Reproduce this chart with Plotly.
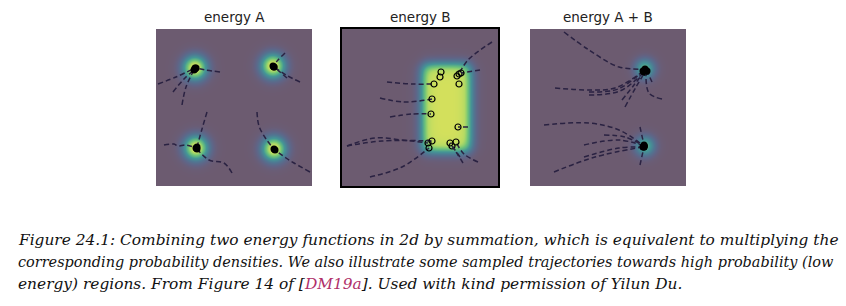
import numpy as np
import plotly.graph_objects as go

W, H = 846, 306

# ---------------- data (panel pixel coordinates, origin top-left of each panel) ----------
panel_titles = ["energy A", "energy B", "energy A + B"]

# energy A : gaussian wells (x, y, amplitude, sigma)
wells_A = [(39, 39, 1.0, 9.0), (117, 37, 1.0, 9.0), (40, 119, 1.0, 9.0), (118, 120, 1.0, 9.0)]
# energy B : soft rectangle (x0, x1, y0, y1, softness)
box_B = (80, 129, 35, 123, 3.6)
# energy A + B : wells
wells_C = [(115, 40, 0.64, 7.5), (115, 117, 0.64, 7.5)]

traj_A = [
    [(2, 55), (20, 48), (39, 39)],
    [(17, 63), (28, 50), (39, 40)],
    [(26, 76), (30, 58), (38, 41)],
    [(64, 43), (50, 41), (40, 39)],
    [(129, 24), (122, 31), (117, 37)],
    [(131, 49), (124, 43), (118, 38)],
    [(144, 53), (130, 46), (118, 38)],
    [(8, 116), (18, 115), (22, 117), (30, 116), (40, 119)],
    [(51, 83), (46, 100), (41, 118)],
    [(76, 144), (68, 134), (53, 131), (41, 120)],
    [(101, 83), (103, 97), (110, 110), (118, 120)],
    [(154, 143), (138, 134), (130, 129), (119, 121)],
]

traj_B = [
    [(45, 53), (70, 55), (92, 55)],
    [(38, 69), (62, 73), (90, 70)],
    [(48, 88), (70, 85), (89, 85)],
    [(5, 117), (33, 109), (60, 111), (86, 114)],
    [(28, 148), (60, 138), (87, 119)],
    [(5, 117), (40, 112), (90, 112)],
    [(150, 13), (126, 31), (117, 45)],
    [(138, 41), (119, 44)],
    [(126, 98), (116, 98)],
    [(136, 133), (122, 125), (114, 113)],
    [(121, 134), (116, 126), (110, 117)],
    [(118, 128), (108, 114)],
    [(99, 43)], [(98, 48)], [(115, 47)], [(117, 55)],
]

traj_C = [
    [(34, 3), (59, 21), (89, 38), (115, 40)],
    [(25, 59), (59, 61), (85, 59), (115, 41)],
    [(59, 66), (90, 62), (114, 43)],
    [(59, 63), (88, 60), (113, 42)],
    [(92, 71), (104, 56), (114, 43)],
    [(95, 78), (106, 58), (115, 43)],
    [(132, 70), (119, 64), (116, 42)],
    [(122, 53), (117, 42)],
    [(14, 96), (59, 94), (89, 101), (114, 117)],
    [(74, 106), (95, 108), (114, 117)],
    [(54, 116), (89, 111), (114, 117)],
    [(54, 128), (89, 119), (114, 118)],
    [(24, 143), (65, 128), (113, 118)],
    [(110, 98), (114, 116)],
    [(110, 136), (114, 118)],
]

caption_lines = [
    "Figure 24.1: Combining two energy functions in 2d by summation, which is equivalent to multiplying the",
    "corresponding probability densities. We also illustrate some sampled trajectories towards high probability (low",
    "energy) regions. From Figure 14 of [<span style='color:#b0306a'>DM19a</span>]. Used with kind permission of Yilun Du.",
]

# ---------------- layout geometry ----------------
PW, PH = 156, 157
panels_px = [(156, 29), (342, 29), (530, 29)]

xs = np.arange(PW) + 0.5
ys = np.arange(PH) + 0.5
X, Y = np.meshgrid(xs, ys)


def wells(ws):
    z = np.zeros_like(X)
    for cx, cy, a, s in ws:
        z += a * np.exp(-((X - cx) ** 2 + (Y - cy) ** 2) / (2 * s * s))
    return np.clip(z, 0, 1)


def box(b):
    x0, x1, y0, y1, s = b
    sig = lambda t: 1 / (1 + np.exp(-t))
    return sig((X - x0) / s) * sig((x1 - X) / s) * sig((Y - y0) / s) * sig((y1 - Y) / s)


fields = [wells(wells_A), box(box_B), wells(wells_C)]

cscale = [
    [0.0, "rgb(108,91,112)"],
    [0.05, "rgb(106,93,118)"],
    [0.15, "rgb(96,100,134)"],
    [0.3, "rgb(80,118,146)"],
    [0.5, "rgb(68,150,150)"],
    [0.7, "rgb(108,194,122)"],
    [0.86, "rgb(180,218,100)"],
    [1.0, "rgb(212,224,92)"],
]

fig = go.Figure()
line_col = "rgb(42,34,66)"

for i, (z, trajs) in enumerate(zip(fields, [traj_A, traj_B, traj_C])):
    ax = "" if i == 0 else str(i + 1)
    fig.add_trace(go.Heatmap(x=xs, y=ys, z=z, zmin=0, zmax=1, colorscale=cscale,
                             showscale=False, hoverinfo="skip", xaxis="x" + ax, yaxis="y" + ax))
    for t in trajs:
        tx = [p[0] for p in t]
        ty = [p[1] for p in t]
        if len(t) > 1:
            fig.add_trace(go.Scatter(x=tx, y=ty, mode="lines", xaxis="x" + ax, yaxis="y" + ax,
                                     line=dict(color=line_col, width=1.5, dash="5px,3px", shape="spline"),
                                     showlegend=False, hoverinfo="skip"))
        if i == 1:
            mk = dict(symbol="circle-open", size=6, color="black", line=dict(width=1.2, color="black"))
        else:
            mk = dict(symbol="circle", size=7, color="black")
        fig.add_trace(go.Scatter(x=[tx[-1]], y=[ty[-1]], mode="markers", xaxis="x" + ax, yaxis="y" + ax,
                                 marker=mk, showlegend=False, hoverinfo="skip"))

layout = dict(width=W, height=H, margin=dict(l=0, r=0, t=0, b=0),
              paper_bgcolor="white", plot_bgcolor="white", showlegend=False)
annotations = []
for i, (px, py) in enumerate(panels_px):
    ax = "" if i == 0 else str(i + 1)
    border = i == 1
    layout["xaxis" + ax] = dict(domain=[px / W, (px + PW) / W], range=[0, PW], showgrid=False,
                               zeroline=False, showticklabels=False, ticks="", anchor="y" + ax,
                               showline=border, linecolor="black", linewidth=1.5, mirror=border)
    layout["yaxis" + ax] = dict(domain=[1 - (py + PH) / H, 1 - py / H], range=[PH, 0], showgrid=False,
                               zeroline=False, showticklabels=False, ticks="", anchor="x" + ax,
                               showline=border, linecolor="black", linewidth=1.5, mirror=border)
    annotations.append(dict(text=panel_titles[i], x=(px + PW / 2) / W, y=1 - 17 / H, xref="paper",
                            yref="paper", showarrow=False, xanchor="center", yanchor="middle",
                            font=dict(family="DejaVu Sans", size=13.5, color="#222")))

cap_y = [240, 262, 284]
cap_sizes = [15.4, 14.45, 15.4]
for txt, yy, fs in zip(caption_lines, cap_y, cap_sizes):
    annotations.append(dict(text="<i>" + txt + "</i>", x=16 / W, y=1 - yy / H, xref="paper", yref="paper",
                            showarrow=False, xanchor="left", yanchor="middle", align="left",
                            font=dict(family="DejaVu Serif", size=fs, color="#111")))
layout["annotations"] = annotations
fig.update_layout(**layout)
fig.write_html("out.html")
